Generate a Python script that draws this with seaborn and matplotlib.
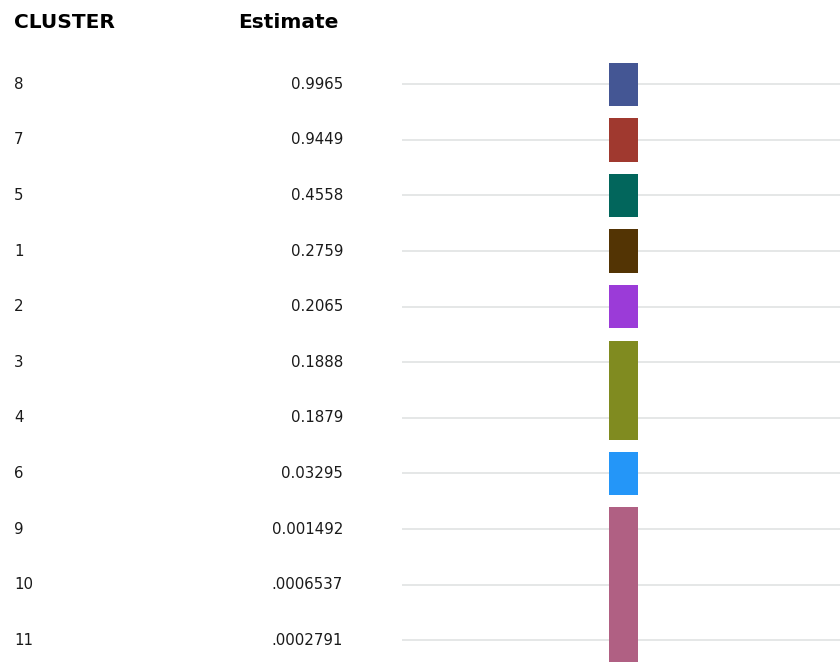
import matplotlib
matplotlib.use("Agg")
import matplotlib.pyplot as plt
import matplotlib.transforms as mtransforms
import seaborn as sns
import pandas as pd

# Clusters in display order, their estimates as printed, and the subset each belongs to
clusters = ["8", "7", "5", "1", "2", "3", "4", "6", "9", "10", "11"]
estimate_labels = ["0.9965", "0.9449", "0.4558", "0.2759", "0.2065", "0.1888",
                   "0.1879", "0.03295", "0.001492", ".0006537", ".0002791"]
subset = ["A", "B", "C", "D", "E", "F", "F", "G", "H", "H", "H"]
subset_colors = {
    "A": "#445694",
    "B": "#A0392F",
    "C": "#02665C",
    "D": "#533404",
    "E": "#9B3BD8",
    "F": "#808B20",
    "G": "#2496F8",
    "H": "#B06083",
}

df = pd.DataFrame({"cluster": clusters, "estimate": estimate_labels, "subset": subset})
df["row"] = range(len(df))

sns.set_theme(style="white")
plt.rcParams["font.family"] = ["DejaVu Sans"]

W, H, DPI = 840, 663, 100
fig = plt.figure(figsize=(W / DPI, H / DPI), dpi=DPI)
fig.patch.set_facecolor("white")

# Panel holding the row grid and the subset bars
ax = fig.add_axes([402 / W, 0.0, 1 - 402 / W, 1.0])
pitch = 55.6
first = 84.3
ax.set_ylim((H - first) / pitch, -first / pitch)
ax.set_xlim(0, 1)
ax.set_yticks(df["row"])
ax.set_yticklabels([])
ax.set_xticks([])
ax.tick_params(length=0)
ax.grid(axis="y", color="#e3e5e5", linewidth=1.3)
ax.grid(axis="x", visible=False)
ax.set_axisbelow(True)
sns.despine(ax=ax, left=True, bottom=True)
ax.set_facecolor("white")

# One bar per subset, spanning the rows of its clusters
spans = df.groupby("subset", sort=False)["row"].agg(["min", "max"]).reset_index()
half = 0.39
bar_x = 0.506
bar_w = 0.066
for _, s in spans.iterrows():
    ax.bar(bar_x, (s["max"] - s["min"]) + 2 * half, bottom=s["min"] - half,
           width=bar_w, color=subset_colors[s["subset"]], linewidth=0, zorder=3)

# Table columns to the left, aligned with the rows
trans = mtransforms.blended_transform_factory(fig.transFigure, ax.transData)
for _, r in df.iterrows():
    ax.text(14 / W, r["row"], r["cluster"], transform=trans, ha="left", va="center",
            fontsize=10.8, color="#1a1a1a", clip_on=False)
    ax.text(343 / W, r["row"], r["estimate"], transform=trans, ha="right", va="center",
            fontsize=10.8, color="#1a1a1a", clip_on=False)

fig.text(14 / W, 1 - 22 / H, "CLUSTER", ha="left", va="center",
         fontsize=14.5, fontweight="bold", color="black")
fig.text(339 / W, 1 - 22 / H, "Estimate", ha="right", va="center",
         fontsize=14.5, fontweight="bold", color="black")

fig.savefig("out.png", dpi=DPI, facecolor="white")
